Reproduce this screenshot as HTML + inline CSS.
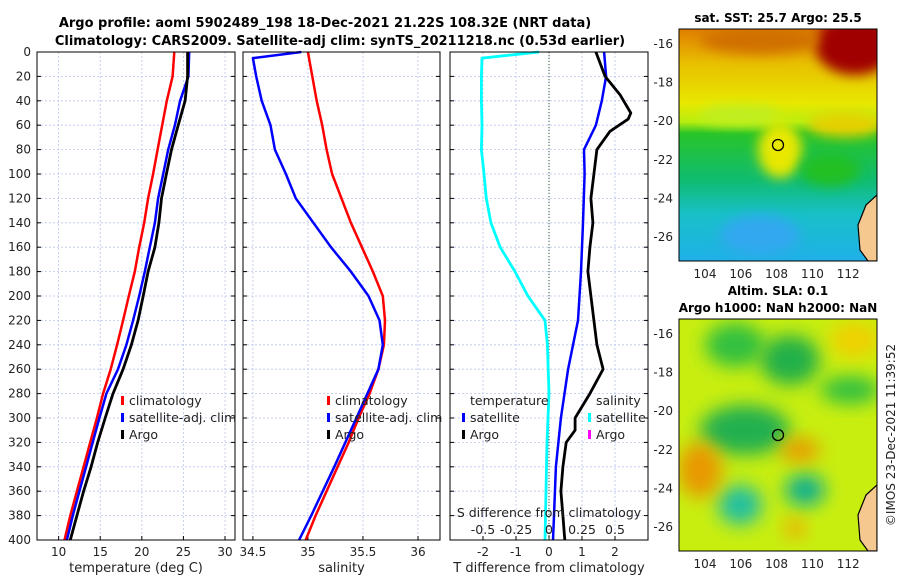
<!DOCTYPE html>
<html><head><meta charset="utf-8"><style>
body{margin:0;background:#fff;width:900px;height:580px;overflow:hidden;font-family:"Liberation Sans","DejaVu Sans",sans-serif}
svg text{font-family:"DejaVu Sans","Liberation Sans",sans-serif}
</style></head><body>
<svg id="c" width="900" height="580" xmlns="http://www.w3.org/2000/svg">
<defs>
<filter id="b1" x="-50%" y="-50%" width="200%" height="200%"><feGaussianBlur stdDeviation="9"/></filter>
<filter id="b2" x="-50%" y="-50%" width="200%" height="200%"><feGaussianBlur stdDeviation="6"/></filter>
<linearGradient id="g1" x1="0" y1="0" x2="0" y2="1">
<stop offset="0" stop-color="#e07e00"/><stop offset="0.15" stop-color="#e8c000"/><stop offset="0.32" stop-color="#e8e800"/>
<stop offset="0.4" stop-color="#b8ee10"/><stop offset="0.45" stop-color="#28c428"/><stop offset="0.65" stop-color="#10bc70"/>
<stop offset="0.8" stop-color="#18c0c8"/><stop offset="1" stop-color="#20b0e8"/></linearGradient>
<clipPath id="cm1"><rect x="679" y="29" width="198" height="232"/></clipPath>
<clipPath id="cm2"><rect x="679" y="319" width="198" height="232"/></clipPath>
</defs>
<text x="325" y="27" text-anchor="middle" font-size="13" font-weight="bold">Argo profile: aoml 5902489_198 18-Dec-2021 21.22S 108.32E (NRT data)</text>
<text x="340" y="45" text-anchor="middle" font-size="13" font-weight="bold">Climatology: CARS2009. Satellite-adj clim: synTS_20211218.nc (0.53d earlier)</text>
<g id="panels"></g>
<g>
<text x="778" y="22" text-anchor="middle" font-size="12" font-weight="bold">sat. SST: 25.7 Argo: 25.5</text>
<g clip-path="url(#cm1)">
<rect x="679" y="29" width="198" height="232" fill="url(#g1)"/>
<ellipse cx="855" cy="45" rx="40" ry="30" fill="#a00000" filter="url(#b2)"/>
<ellipse cx="760" cy="40" rx="60" ry="14" fill="#d07000" filter="url(#b2)"/>
<ellipse cx="740" cy="115" rx="40" ry="10" fill="#c0ee20" filter="url(#b2)"/>
<ellipse cx="780" cy="150" rx="22" ry="28" fill="#e8e800" filter="url(#b2)"/>
<ellipse cx="845" cy="125" rx="38" ry="12" fill="#e8d000" filter="url(#b2)"/>
<ellipse cx="830" cy="170" rx="30" ry="16" fill="#20c020" filter="url(#b2)"/>
<ellipse cx="760" cy="235" rx="40" ry="20" fill="#30a8f0" filter="url(#b2)"/>
<path d="M877 195 L866 205 L858 225 L860 250 L868 261 L877 261Z" fill="#f5c890" stroke="#000" stroke-width="1.2"/>
</g>
<rect x="679" y="29" width="198" height="232" fill="none" stroke="#000"/>
<circle cx="778" cy="145" r="5.5" fill="none" stroke="#000" stroke-width="1.3"/>
</g>
<g>
<text x="778" y="295" text-anchor="middle" font-size="12" font-weight="bold">Altim. SLA: 0.1</text>
<text x="778" y="312" text-anchor="middle" font-size="12" font-weight="bold">Argo h1000: NaN h2000: NaN</text>
<g clip-path="url(#cm2)">
<rect x="679" y="319" width="198" height="232" fill="#c8ee10"/>
<ellipse cx="735" cy="345" rx="30" ry="22" fill="#30c040" filter="url(#b1)"/>
<ellipse cx="790" cy="360" rx="30" ry="25" fill="#20b048" filter="url(#b1)"/>
<ellipse cx="850" cy="390" rx="30" ry="14" fill="#30c040" filter="url(#b1)"/>
<ellipse cx="745" cy="430" rx="45" ry="25" fill="#20b050" filter="url(#b1)"/>
<ellipse cx="740" cy="505" rx="22" ry="20" fill="#20c0a0" filter="url(#b1)"/>
<ellipse cx="805" cy="490" rx="20" ry="16" fill="#10b090" filter="url(#b1)"/>
<ellipse cx="700" cy="470" rx="22" ry="28" fill="#e89800" filter="url(#b1)"/>
<ellipse cx="800" cy="450" rx="20" ry="12" fill="#e89a00" filter="url(#b1)"/>
<ellipse cx="795" cy="528" rx="10" ry="10" fill="#f0a800" filter="url(#b1)"/>
<ellipse cx="855" cy="340" rx="25" ry="18" fill="#f0d000" filter="url(#b1)"/>
<path d="M877 485 L866 495 L858 515 L860 540 L868 551 L877 551Z" fill="#f5c890" stroke="#000" stroke-width="1.2"/>
</g>
<rect x="679" y="319" width="198" height="232" fill="none" stroke="#000"/>
<circle cx="778" cy="435" r="5.5" fill="none" stroke="#000" stroke-width="1.3"/>
</g>
<text transform="translate(895,435) rotate(-90)" text-anchor="middle" font-size="12" fill="#222">©IMOS 23-Dec-2021 11:39:52</text>
</svg>
<script>
const depths=[0,20,40,60,80,100,120,140,160,180,200,220,240,260,280,300,320,340,360,380,400];
const tClim=[23.9,23.7,23.0,22.45,21.9,21.36,20.76,20.28,19.68,19.15,18.43,17.75,17.03,16.26,15.34,14.6,13.8,13.0,12.2,11.4,10.7];
const tSat=[25.7,25.6,24.6,23.97,23.17,22.57,21.96,21.57,20.96,20.36,19.68,18.95,18.15,17.14,15.74,14.9,14.1,13.3,12.5,11.7,11.0];
const tArgo=[25.5,25.5,25.2,24.37,23.57,22.96,22.36,22.05,21.57,20.76,20.16,19.55,18.75,17.75,16.54,15.6,14.7,13.9,13.0,12.2,11.4];
const sDepthsC=[0,20,40,60,80,100,140,160,180,200,220,240,260,280,300,320,340,360,380,400];
const sClim=[35.0,35.04,35.08,35.13,35.17,35.22,35.39,35.49,35.59,35.68,35.7,35.69,35.64,35.56,35.46,35.37,35.27,35.17,35.07,34.98];
const sDepths=[0,5,20,40,60,80,100,120,140,160,180,200,220,240,260,300,340,380,400];
const sSat=[34.94,34.5,34.53,34.58,34.66,34.7,34.8,34.89,35.05,35.21,35.39,35.55,35.65,35.68,35.64,35.44,35.24,35.03,34.92];
const dDepths=[0,5,20,40,60,80,100,120,140,160,180,200,220,240,280,320,360,400];
const dSalSat=[-0.3,-2.03,-2.05,-2.05,-2.03,-2.05,-1.97,-1.9,-1.76,-1.48,-1.03,-0.64,-0.12,-0.05,0,-0.06,-0.09,-0.12];
const bDepths=[0,20,40,60,80,100,140,180,220,260,300,340,380,400];
const dTSat=[1.67,1.73,1.6,1.42,1.06,1.08,1.03,0.97,0.88,0.58,0.36,0.21,0.15,0.12];
const aDepths=[0,20,35,50,55,65,80,100,120,140,160,180,200,220,240,260,280,300,310,320,340,360,380,400];
const dTArgo=[1.42,1.7,2.15,2.48,2.4,1.85,1.45,1.36,1.27,1.33,1.24,1.18,1.27,1.36,1.45,1.64,1.24,0.79,0.79,0.52,0.42,0.36,0.42,0.48];
const tTicks=[10,15,20,25,30];
const sTicks=[34.5,35,35.5,36];
const dTicks=[-2,-1,0,1,2];
const dsTicks=["-0.5","-0.25","0","0.25","0.5"];
const dsVals=[-0.5,-0.25,0,0.25,0.5];
const yTicks=[0,20,40,60,80,100,120,140,160,180,200,220,240,260,280,300,320,340,360,380,400];

const NS='http://www.w3.org/2000/svg';
const G=document.getElementById('panels');
const TOP=52,BOT=540;
const yS=d=>TOP+d*(BOT-TOP)/400;
function mk(tag,at,parent){const e=document.createElementNS(NS,tag);for(const k in at)e.setAttribute(k,at[k]);(parent||G).appendChild(e);return e;}
function txt(x,y,s,anchor,size,parent){const t=mk('text',{x:x,y:y,'text-anchor':anchor||'middle','font-size':size||12,fill:'#222'},parent);t.textContent=s;return t;}
const panels=[
 {x0:37,x1:235,lo:7.4,hi:31.2,ticks:tTicks,label:'temperature (deg C)',name:'temperature-panel'},
 {x0:243,x1:440,lo:34.41,hi:36.2,ticks:sTicks,label:'salinity',name:'salinity-panel'},
 {x0:450,x1:648,lo:-3.0,hi:3.0,ticks:dTicks,label:'T difference from climatology',name:'difference-panel'}];
panels.forEach(p=>{p.sx=v=>p.x0+(v-p.lo)*(p.x1-p.x0)/(p.hi-p.lo);});
panels.forEach((p,i)=>{
 const g=mk('g',{});
 
 
 yTicks.forEach(d=>{mk('line',{x1:p.x0,x2:p.x1,y1:yS(d),y2:yS(d),stroke:'#b8c4ee','stroke-width':0.8,'stroke-dasharray':'2,2'},g);
  mk('line',{x1:p.x0,x2:p.x0+4,y1:yS(d),y2:yS(d),stroke:'#000'},g);mk('line',{x1:p.x1-4,x2:p.x1,y1:yS(d),y2:yS(d),stroke:'#000'},g);});
 p.ticks.forEach(v=>{const x=p.sx(v);mk('line',{x1:x,x2:x,y1:TOP,y2:BOT,stroke:'#b8c4ee','stroke-width':0.8,'stroke-dasharray':'2,2'},g);
  mk('line',{x1:x,x2:x,y1:BOT-4,y2:BOT,stroke:'#000'},g);
  const t=txt(x,BOT+16,String(v),'middle',12,g);});
 const xl=txt((p.x0+p.x1)/2,BOT+32,p.label,'middle',13,g);
 
 
 p.g=g;
});
yTicks.forEach(d=>{const t=txt(31,yS(d)+4,String(d),'end',12);
 
 });
function line(p,xs,ds,col,w,name){
 const pts=xs.map((v,i)=>p.sx(v).toFixed(1)+','+yS(ds[i]).toFixed(1)).join(' ');
 const l=mk('polyline',{points:pts,fill:'none',stroke:col,'stroke-width':w,'stroke-linejoin':'round'},p.g);
 
 }
const P0=panels[0],P1=panels[1],P2=panels[2];
line(P0,tClim,depths,'#ff0000',2.5,'temp-climatology-line');
line(P0,tSat,depths,'#0000ff',2.5,'temp-satellite-line');
line(P0,tArgo,depths,'#000',2.8,'temp-argo-line');
line(P1,sClim,sDepthsC,'#ff0000',2.5,'sal-climatology-line');
line(P1,sSat,sDepths,'#0000ff',2.5,'sal-satellite-line');
const zx=P2.sx(0);
const z=mk('line',{x1:zx,x2:zx,y1:TOP,y2:BOT,stroke:'#335533','stroke-width':1,'stroke-dasharray':'1,2'},P2.g);


line(P2,dSalSat,dDepths,'#00ffff',2.8,'sal-diff-satellite-line');
line(P2,dTSat,bDepths,'#0000ff',2.5,'temp-diff-satellite-line');
line(P2,dTArgo,aDepths,'#000',2.8,'temp-diff-argo-line');
txt(549,517,'S difference from climatology','middle',12.5,P2.g);
dsVals.forEach((v,i)=>{const x=P2.sx(0)+v*132;const t=txt(x,534,dsTicks[i],'middle',12.5,P2.g);
 
 });
panels.forEach(p=>{mk('rect',{x:p.x0,y:TOP,width:p.x1-p.x0,height:BOT-TOP,fill:'none',stroke:'#000','stroke-width':1},p.g);});
function leg(g,x,y,col,label){mk('rect',{x:x,y:y-9,width:3,height:9,fill:col},g);const t=txt(x+8,y,label,'start',12.5,g);
 
 }
[[P0,121],[P1,327]].forEach(([p,x])=>{leg(p.g,x,405,'#ff0000','climatology');leg(p.g,x,422,'#0000ff','satellite-adj. clim');leg(p.g,x,439,'#000','Argo');});
txt(470,405,'temperature','start',12.5,P2.g);
leg(P2.g,462,422,'#0000ff','satellite');leg(P2.g,462,439,'#000','Argo');
txt(596,405,'salinity','start',12.5,P2.g);
leg(P2.g,588,422,'#00ffff','satellite');leg(P2.g,588,439,'#ff00ff','Argo');
function mapAxes(y0,y1,lat16,lat26){
 const latS=(lat26-lat16)/10;
 [-16,-18,-20,-22,-24,-26].forEach(l=>{const y=lat16+(-16-l)*latS;
  const t=txt(673,y+4,String(l),'end',12);
  
  
  mk('line',{x1:877,x2:873,y1:y,y2:y,stroke:'#000'});});
 [104,106,108,110,112].forEach(l=>{const x=705+(l-104)*17.9;
  const t=txt(x,y1+17,String(l),'middle',12);
  
  });}
mapAxes(29,261,44,237);
mapAxes(319,551,334,527);
</script>
</body></html>
